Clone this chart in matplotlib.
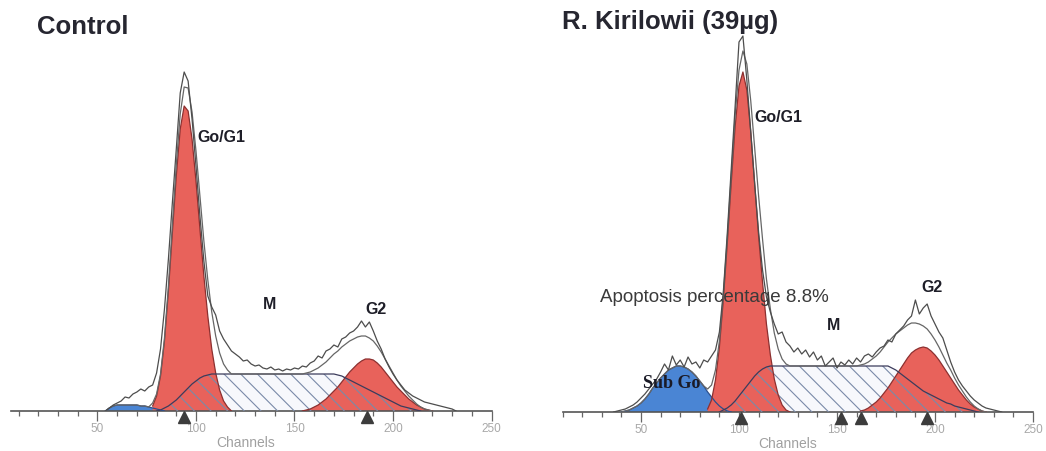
import numpy as np
import matplotlib.pyplot as plt

plt.rcParams['font.family'] = ['Liberation Sans', 'DejaVu Sans']
plt.rcParams['hatch.linewidth'] = 0.8

# DNA histograms, counts sampled every 2 channels; each component is (first channel, counts)
ctrl_debris = (54, [0, 3, 5, 6, 6, 6, 6, 6, 6, 5, 5, 4, 3, 2, 1, 0])
ctrl_g1 = (78, [5, 15, 35, 70, 120, 178, 235, 282, 305, 300, 272, 230, 182, 135,
                95, 62, 38, 21, 10, 4, 0])
ctrl_s = (80, [0, 1, 3, 5, 8, 11, 15, 19, 23, 27, 30, 33, 35, 36, 37,
               37, 37, 37, 37, 37, 37, 37, 37, 37, 37, 37, 37, 37, 37, 37,
               37, 37, 37, 37, 37, 37, 37, 37, 37, 37, 37, 37, 37, 37, 37, 37,
               36, 35, 33, 31, 29, 27, 25, 23, 21, 19, 17, 15, 13, 11, 9, 7,
               5, 4, 3, 2, 1, 0])
ctrl_g2 = (154, [0, 1, 2, 4, 6, 9, 12, 16, 20, 24, 29, 34, 39, 43, 47, 50, 52, 52,
                 51, 48, 44, 39, 34, 29, 24, 20, 16, 12, 9, 6, 4, 2, 1, 0])
ctrl_raw = (54, [0, 3, 6, 8, 10, 14, 13, 17, 19, 22, 20, 24, 26, 38, 62, 102, 152,
                 208, 262, 318, 339, 330, 292, 245, 195, 150, 115, 104, 96, 80, 72,
                 66, 60, 57, 54, 50, 51, 47, 45, 46, 43, 42, 44, 41, 42, 40, 42, 41,
                 43, 42, 45, 44, 48, 50, 55, 53, 60, 62, 66, 64, 72, 74, 78, 80, 84,
                 90, 84, 89, 80, 70, 62, 52, 44, 37, 31, 26, 21, 18, 15, 13, 11, 9,
                 8, 7, 6, 5, 4, 3, 2, 0])
ctrl_marks = [94, 187]

rk_debris = (40, [0, 1, 2, 4, 6, 9, 13, 18, 24, 29, 34, 38, 42, 44, 46, 46, 45, 43,
                  40, 36, 31, 26, 20, 15, 10, 6, 3, 1, 0])
rk_g1 = (84, [3, 12, 32, 65, 112, 168, 228, 285, 326, 340, 322, 280, 228, 176, 130,
              88, 57, 33, 17, 7, 2, 0])
rk_s = (90, [0, 2, 4, 7, 11, 16, 21, 26, 31, 36, 40, 43, 45,
             46, 46, 46, 46, 46, 46, 46, 46, 46, 46, 46, 46, 46, 46, 46, 46,
             46, 46, 46, 46, 46, 46, 46, 46, 46, 46, 46, 46, 46, 46, 46,
             44, 42, 39, 36, 33, 30, 27, 24, 21, 19, 17, 15, 13, 11, 9, 8, 6, 5,
             4, 3, 2, 1, 0])
rk_g2 = (162, [1, 2, 4, 7, 10, 14, 19, 24, 30, 36, 42, 48, 54, 59, 62, 64, 65, 64,
               61, 57, 52, 46, 40, 34, 28, 22, 17, 12, 8, 5, 3, 1, 0])
rk_raw = (36, [0, 1, 2, 3, 5, 7, 10, 14, 18, 23, 28, 33, 40, 48, 42, 56, 47, 52, 45,
               55, 48, 50, 44, 52, 50, 56, 62, 80, 120, 178, 242, 305, 370, 376, 332,
               280, 228, 180, 142, 115, 100, 88, 78, 80, 70, 66, 60, 64, 58, 62, 55,
               60, 52, 56, 46, 50, 54, 44, 50, 47, 52, 48, 54, 50, 56, 58, 55, 60, 64,
               66, 72, 70, 78, 82, 86, 92, 96, 112, 98, 104, 108, 96, 88, 80, 74, 62,
               50, 40, 32, 26, 21, 16, 12, 9, 6, 4, 3, 2, 1, 0])
rk_marks = [101, 152, 162, 196]

RED = '#e8625b'
RED_EDGE = '#8c3030'
BLUE = '#4a85d4'
BLUE_EDGE = '#2c4f8c'
S_FACE = '#f7f8fc'
HATCH = '#7a8aa8'
S_EDGE = '#3c3c5c'
LINE = '#4d4d4d'


def curve(start, counts):
    return start + 2 * np.arange(len(counts)), np.array(counts, float)


def on_grid(grid, comp):
    out = np.zeros(len(grid))
    i = (comp[0] - grid[0]) // 2
    out[i:i + len(comp[1])] = comp[1]
    return out


def draw_panel(ax, debris, g1, s, g2, raw, marks, x0):
    ax.set_xlim(x0, 250)
    ax.set_ylim(0, 400)

    sx, sy = curve(*s)
    ax.fill_between(sx, 0, sy, facecolor=S_FACE, lw=0, zorder=1)
    for comp, fc, ec in [(debris, BLUE, BLUE_EDGE), (g1, RED, RED_EDGE), (g2, RED, RED_EDGE)]:
        cx, cy = curve(*comp)
        ax.fill_between(cx, 0, cy, facecolor=fc, lw=0, zorder=2)
        ax.plot(cx, cy, color=ec, lw=0.9, zorder=3.5)
    ax.fill_between(sx, 0, sy, facecolor='none', edgecolor=HATCH, hatch='\\\\', lw=0, zorder=3)
    ax.plot(sx, sy, color=S_EDGE, lw=0.9, zorder=3.5)

    # model total and measured histogram
    grid = np.arange(30, 242, 2)
    fit = sum(on_grid(grid, c) for c in (debris, g1, s, g2))
    nz = np.nonzero(fit)[0]
    ax.plot(grid[nz[0] - 1:nz[-1] + 2], fit[nz[0] - 1:nz[-1] + 2], color='#666666', lw=0.9, zorder=4)
    rx, ry = curve(*raw)
    ax.plot(rx, ry, color=LINE, lw=0.9, zorder=4)

    ax.plot(marks, [-5.5] * len(marks), ls='none', marker='^', ms=8,
            color='#3c3c3c', clip_on=False, zorder=5)

    for side in ('left', 'top', 'right'):
        ax.spines[side].set_visible(False)
    ax.spines['bottom'].set_color('#555555')
    ax.spines['bottom'].set_linewidth(1.2)
    ax.set_yticks([])
    ax.set_xticks(np.arange(50, 251, 50))
    ax.set_xticks(np.arange(10, 251, 10), minor=True)
    ax.tick_params(axis='x', which='major', length=7, width=0.9, color='#666666',
                   labelsize=8.5, labelcolor='#a8a8a8', pad=1)
    ax.tick_params(axis='x', which='minor', length=3.5, width=0.9, color='#666666')
    ax.text(125, -31, 'Channels', ha='center', va='center', fontsize=10,
            color='#a0a0a0', clip_on=False)


fig = plt.figure(figsize=(10.46, 4.52), dpi=100)
W, H = 1046, 452
axL = fig.add_axes([10.8 / W, 40 / H, 480.7 / W, 400 / H])
axR = fig.add_axes([562.6 / W, 39 / H, 470.4 / W, 400 / H])

draw_panel(axL, ctrl_debris, ctrl_g1, ctrl_s, ctrl_g2, ctrl_raw, ctrl_marks, 6)
draw_panel(axR, rk_debris, rk_g1, rk_s, rk_g2, rk_raw, rk_marks, 10)

lab = dict(fontsize=11.5, fontweight='bold', color='#1e1e28', zorder=6)
axL.text(100.5, 274, 'Go/G1', ha='left', va='center', **lab)
axL.text(137.5, 107, 'M', ha='center', va='center', **lab)
axL.text(191.5, 102, 'G2', ha='center', va='center', **lab)

axR.text(108, 295, 'Go/G1', ha='left', va='center', **lab)
axR.text(148, 88, 'M', ha='center', va='center', **lab)
axR.text(198.5, 125, 'G2', ha='center', va='center', **lab)
axR.text(29, 116, 'Apoptosis percentage 8.8%', ha='left', va='center',
         fontsize=13.5, color='#3a3a3a', zorder=5)
axR.text(51, 29, 'Sub Go', ha='left', va='center', fontsize=13, fontweight='bold',
         family=['Liberation Serif', 'DejaVu Serif'], color='#1a1a26', zorder=6)

fig.text(37 / W, 1 - 27 / H, 'Control', fontsize=18.5, fontweight='bold',
         color='#262630', ha='left', va='center')
fig.text(562 / W, 1 - 22 / H, 'R. Kirilowii (39\u00b5g)', fontsize=18.5, fontweight='bold',
         color='#262630', ha='left', va='center')

fig.savefig('out.png', dpi=100, facecolor='white')
